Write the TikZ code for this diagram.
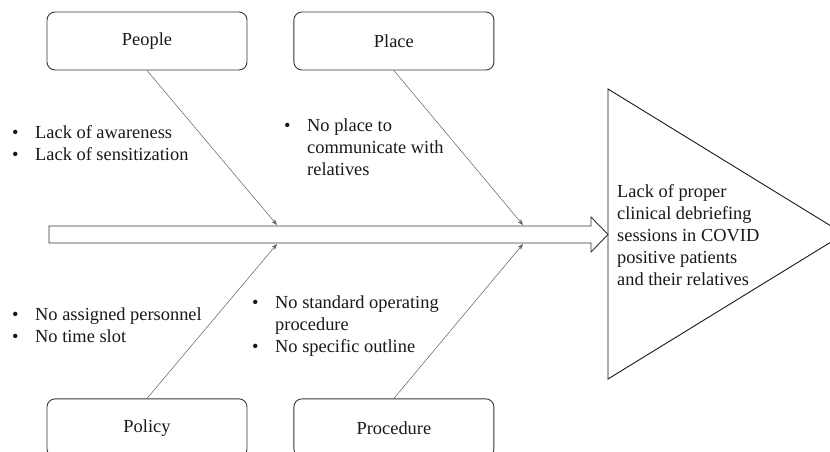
\documentclass[tikz,border=0pt]{standalone}
\usepackage{fontspec}
\setmainfont{Liberation Serif}
\usetikzlibrary{
    arrows.meta,
    positioning
}
\definecolor{ink}{RGB}{25,25,25}
\definecolor{edge}{RGB}{55,55,55}
\definecolor{bonecol}{RGB}{95,95,95}
\newlength{\bulw}
\setlength{\bulw}{23pt}
\newcommand{\itm}{\makebox[\bulw][l]{\textbullet}}
\newcommand{\cont}{\hspace*{\bulw}}
\tikzset{
    line join=round,
    category/.style={
        rectangle,
        draw=edge,
        line width=0.9pt,
        rounded corners=8pt,
        fill=white,
        minimum width=200pt,
        minimum height=58pt,
        inner sep=0pt,
        text=ink
    },
    causes/.style={
        align=left,
        inner sep=0pt,
        anchor=base west,
        text=ink
    },
    bone/.style={
        -{Stealth[length=6pt,width=4.5pt]},
        draw=bonecol,
        line width=0.5pt
    },
    spine/.style={
        draw=edge,
        line width=0.9pt,
        fill=white
    },
    head/.style={
        draw=ink,
        line width=0.9pt,
        fill=white
    }
}

\begin{document}
\begin{tikzpicture}[
    x=1pt, y=-1pt,
    every node/.style={font=\fontsize{18.4}{21.8}\selectfont}
]

    \useasboundingbox (0,0) rectangle (830,452);
    \clip (0,0) rectangle (830,452);
    \fill[white] (0,0) rectangle (830,452);

    % Effect (fish head); base = last line
    \draw[head] (608,89) -- (844,234) -- (608,379) -- cycle;
    \node[causes] (effect) at (617,285) {Lack of proper\\clinical debriefing\\sessions in COVID\\positive patients\\and their relatives};

    % Spine
    \draw[spine] (49,226) -- (591,226) -- (591,217) -- (608,234.5)
        -- (591,252) -- (591,243) -- (49,243) -- cycle;
    \coordinate (j1) at (277,225);
    \coordinate (j2) at (523,225);
    \coordinate (j3) at (277,244);
    \coordinate (j4) at (523,244);

    % Categories
    \node[category] (people) at (147,41) {People};
    \node[category, right=46pt of people] (place) {Place};
    \node[category, below=328pt of people] (policy) {Policy};
    \node[category, below=328pt of place] (procedure) {Procedure};

    % Bones
    \draw[bone] (people.south) -- (j1);
    \draw[bone] (place.south) -- (j2);
    \draw[bone] (policy.north) -- (j3);
    \draw[bone] (procedure.north) -- (j4);

    % Causes
    \node[causes] (c1) at (12,160) {\itm Lack of awareness\\\itm Lack of sensitization};
    \node[causes] (c2) at (284,175) {\itm No place to\\\cont communicate with\\\cont relatives};
    \node[causes] (c3) at (12,342.5) {\itm No assigned personnel\\\itm No time slot};
    \node[causes] (c4) at (252,352.5) {\itm No standard operating\\\cont procedure\\\itm No specific outline};

\end{tikzpicture}
\end{document}
